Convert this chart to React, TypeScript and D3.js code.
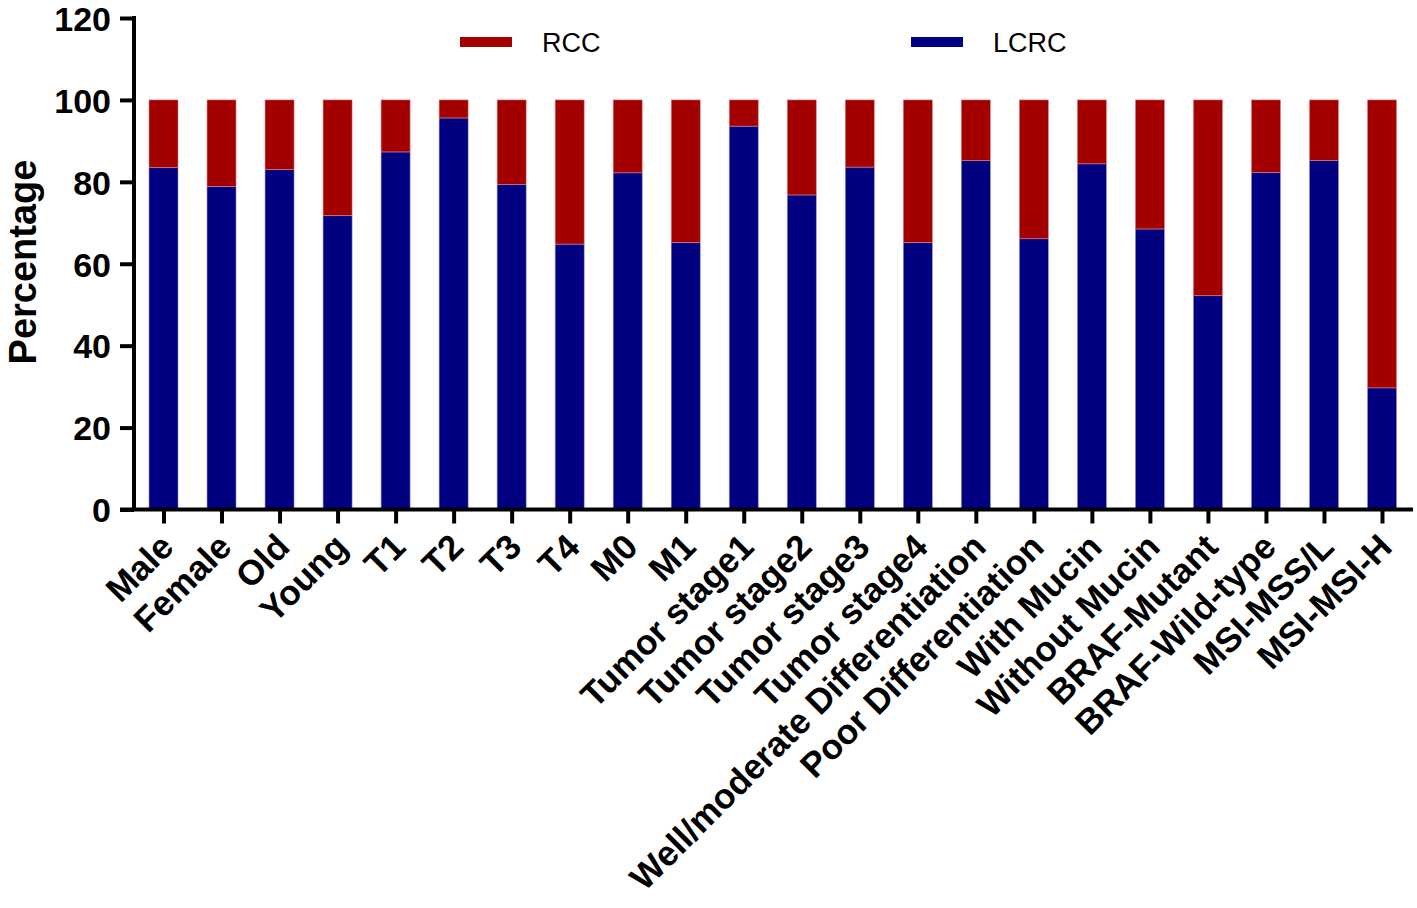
import React, { useEffect, useRef } from 'react'
import * as d3 from 'd3'

const categories = [
  'Male', 'Female', 'Old', 'Young', 'T1', 'T2', 'T3', 'T4', 'M0', 'M1',
  'Tumor stage1', 'Tumor stage2', 'Tumor stage3', 'Tumor stage4',
  'Well/moderate Differentiation', 'Poor Differentiation', 'With Mucin',
  'Without Mucin', 'BRAF-Mutant', 'BRAF-Wild-type', 'MSI-MSS/L', 'MSI-MSI-H',
]

// LCRC share in percent; RCC is the remainder up to 100
const lcrc = [
  83.5, 78.9, 83.0, 71.8, 87.3, 95.6, 79.4, 64.8, 82.2, 65.2,
  93.6, 76.8, 83.6, 65.2, 85.2, 66.1, 84.4, 68.5, 52.2, 82.3, 85.2, 29.7,
]
const rcc = lcrc.map((v) => 100 - v)

const yTicks = [0, 20, 40, 60, 80, 100, 120]

const series = [
  { key: 'RCC', color: '#a30000' },
  { key: 'LCRC', color: '#000080' },
]

const FONT = 'Arial, "Liberation Sans", Helvetica, sans-serif'

export default function App() {
  const svgRef = useRef<SVGSVGElement>(null)

  useEffect(() => {
    document.body.style.margin = '0'
    if (!svgRef.current) return
    const svg = d3.select(svgRef.current)
    svg.selectAll('*').remove()

    const width = 1417
    const height = 908

    svg.append('rect').attr('width', width).attr('height', height).attr('fill', '#fff')

    const x = d3.scalePoint<string>().domain(categories).range([163.5, 1382])
    const barWidth = 29
    const y = d3.scaleLinear().domain([0, 120]).range([509.5, 18])

    // stacked bars
    const rows = categories.map((c, i) => ({ cat: c, LCRC: lcrc[i], RCC: rcc[i] }))
    const stack = d3.stack<any>().keys(['LCRC', 'RCC'])(rows)
    const colorOf: Record<string, string> = { LCRC: '#000080', RCC: '#a30000' }

    const g = svg.append('g')
    stack.forEach((layer) => {
      g.selectAll(null)
        .data(layer)
        .enter()
        .append('rect')
        .attr('x', (d: any) => (x(d.data.cat) as number) - barWidth / 2)
        .attr('width', barWidth)
        .attr('y', (d: any) => y(d[1]))
        .attr('height', (d: any) => y(d[0]) - y(d[1]))
        .attr('fill', colorOf[layer.key])
        .attr('stroke', layer.key === 'LCRC' ? '#8f8fd0' : '#e08080')
        .attr('stroke-width', 0.6)
    })

    // y axis
    const yAxis = svg
      .append('g')
      .attr('transform', 'translate(134,0)')
      .call(d3.axisLeft(y).tickValues(yTicks).tickSize(14).tickPadding(9).tickFormat(d3.format('d')))
    yAxis.select('.domain').attr('stroke', '#000').attr('stroke-width', 4).attr('d', `M0,${y(120) - 2}V${y(0)}`)
    yAxis.selectAll('.tick line').attr('stroke', '#000').attr('stroke-width', 4)
    yAxis
      .selectAll('.tick text')
      .attr('fill', '#000')
      .style('font-family', FONT)
      .style('font-size', '34px')
      .style('font-weight', 'bold')
      .attr('dy', '0.36em')

    // x axis
    const xAxis = svg
      .append('g')
      .attr('transform', `translate(0,${y(0)})`)
      .call(d3.axisBottom(x).tickSize(14).tickFormat(() => ''))
    xAxis.select('.domain').attr('stroke', '#000').attr('stroke-width', 4).attr('d', 'M120,0H1413')
    xAxis.selectAll('.tick line').attr('stroke', '#000').attr('stroke-width', 4)

    svg
      .append('g')
      .selectAll('text')
      .data(categories)
      .enter()
      .append('text')
      .attr('transform', (d) => `translate(${(x(d) as number) + 12},549) rotate(-45)`)
      .attr('text-anchor', 'end')
      .style('font-family', FONT)
      .style('font-size', '35px')
      .style('font-weight', 'bold')
      .attr('fill', '#000')
      .text((d) => d)

    // y label
    svg
      .append('text')
      .attr('transform', 'translate(36,262) rotate(-90)')
      .attr('text-anchor', 'middle')
      .style('font-family', FONT)
      .style('font-size', '38px')
      .style('font-weight', 'bold')
      .text('Percentage')

    // legend
    const legendX = [460, 911]
    const legend = svg
      .append('g')
      .selectAll('g')
      .data(series)
      .enter()
      .append('g')
      .attr('transform', (_d, i) => `translate(${legendX[i]},0)`)
    legend
      .append('rect')
      .attr('x', 0)
      .attr('y', 37)
      .attr('width', 52)
      .attr('height', 10)
      .attr('fill', (d) => d.color)
    legend
      .append('text')
      .attr('x', 82)
      .attr('y', 52)
      .style('font-family', FONT)
      .style('font-size', '27px')
      .attr('fill', '#000')
      .text((d) => d.key)
  }, [])

  return <svg ref={svgRef} width={1417} height={908} style={{ display: 'block' }} />
}
